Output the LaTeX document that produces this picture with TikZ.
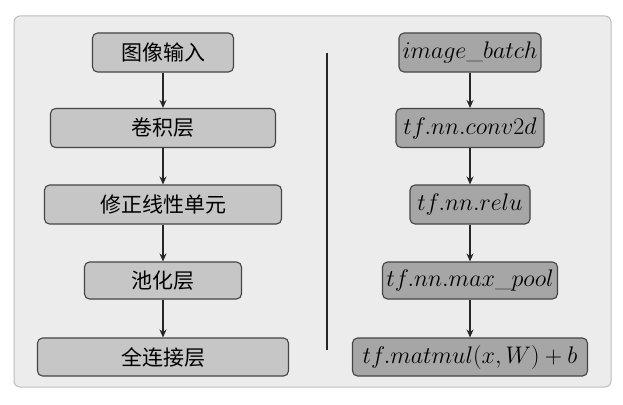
\RequirePackage{fix-cm}
\documentclass[tikz,border=0pt]{standalone}
\usepackage{fontspec}
\newfontfamily\cjk{Noto Sans CJK SC}
\usetikzlibrary{arrows.meta}
\definecolor{framebg}{HTML}{ECECEC}
\definecolor{frameln}{HTML}{BDBDBD}
\definecolor{lfill}{HTML}{C6C6C6}
\definecolor{rfill}{HTML}{A6A6A6}
\definecolor{boxln}{HTML}{444444}
\tikzset{
  lbox/.style={draw=boxln, line width=1.1pt, fill=lfill, rounded corners=5pt, inner sep=0pt, font=\cjk\fontsize{21}{25}\selectfont},
  rbox/.style={draw=boxln, line width=1.1pt, fill=rfill, rounded corners=5pt, inner sep=0pt, font=\fontsize{24}{28}\selectfont},
  arr/.style={line width=1.6pt, draw=black!85, -{Stealth[length=8pt,width=7pt]}}
}
\begin{document}
\begin{tikzpicture}[x=1pt,y=-1pt]
\useasboundingbox (0,0) rectangle (623,404);
\draw[frameln, fill=framebg, line width=1pt, rounded corners=6pt] (14,16) rectangle (611,387);
\node[lbox, minimum width=141pt, minimum height=39pt] (l1) at (163,52.5) {图像输入};
\node[lbox, minimum width=225pt, minimum height=39pt] (l2) at (163,128) {卷积层};
\node[lbox, minimum width=237pt, minimum height=39pt] (l3) at (163,204.5) {修正线性单元};
\node[lbox, minimum width=157pt, minimum height=37pt] (l4) at (163,280.5) {池化层};
\node[lbox, minimum width=251pt, minimum height=38pt] (l5) at (163,357) {全连接层};
\node[rbox, minimum width=142pt, minimum height=39pt] (r1) at (470,52.5) {$image\_batch$};
\node[rbox, minimum width=148pt, minimum height=39pt] (r2) at (470,128) {$tf.nn.conv2d$};
\node[rbox, minimum width=120pt, minimum height=39pt] (r3) at (470,204.5) {$tf.nn.relu$};
\node[rbox, minimum width=175pt, minimum height=37pt] (r4) at (470,280.5) {$tf.nn.max\_pool$};
\node[rbox, minimum width=235pt, minimum height=38pt] (r5) at (470,357) {$tf.matmul(x,W)+b$};
\coordinate (d1) at (327,53);
\coordinate (d2) at (327,350);
\draw[line width=1.2pt, black!85] (d1) -- (d2);
\foreach \a/\b in {l1/l2,l2/l3,l3/l4,l4/l5,r1/r2,r2/r3,r3/r4,r4/r5}
  \draw[arr] (\a) -- (\b);
\end{tikzpicture}
\end{document}
